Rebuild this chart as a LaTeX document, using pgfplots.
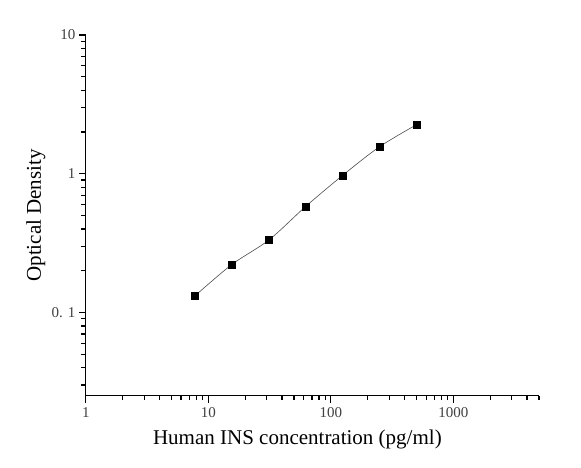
\documentclass[border=0pt]{standalone}
\usepackage{fontspec}
\setmainfont{Liberation Serif}
\usepackage{pgfplots}
\pgfplotsset{compat=1.18}
\begin{document}
\begin{tikzpicture}
\useasboundingbox (-85.8pt,-71.3pt) rectangle (495.2pt,395.7pt);
\begin{axis}[
  at={(0,0)}, anchor=south west,
  scale only axis, width=453.2pt, height=360.7pt,
  xmode=log, ymode=log,
  xmin=1, xmax=5000, ymin=0.0251, ymax=10,
  axis x line=bottom, axis y line=left,
  axis line style={-, line width=1pt},
  xtick align=outside, ytick align=outside,
  major tick length=7pt, minor tick length=4.5pt,
  xtick={1,10,100,1000}, xticklabels={1,10,100,1000},
  minor xtick={2,3,4,5,6,7,8,9,20,30,40,50,60,70,80,90,200,300,400,500,600,700,800,900,2000,3000,4000,5000},
  ytick={0.1,1,10}, yticklabels={0. 1,1,10},
  minor ytick={0.03,0.04,0.05,0.06,0.07,0.08,0.09,0.2,0.3,0.4,0.5,0.6,0.7,0.8,0.9,2,3,4,5,6,7,8,9},
  ytick style={black, line width=1.3pt},
  xtick style={black, line width=1.3pt},
  /pgf/number format/assume math mode=true,
  tick label style={font=\fontsize{15}{15}\selectfont, text=black!75},
  xticklabel style={yshift=-1pt},
  yticklabel style={xshift=0pt},
  xlabel={Human INS concentration (pg/ml)},
  ylabel={Optical Density},
  label style={font=\fontsize{21}{21}\selectfont},
  xlabel style={at={(axis description cs:0.5,0)}, anchor=center, yshift=-44pt, xshift=-15pt},
  ylabel style={at={(axis description cs:0,0.5)}, anchor=center, xshift=0pt, yshift=50pt},
  clip=false,
]
\addplot[gray!60!black, line width=0.6pt, smooth] coordinates {
(7.8,0.132) (15.6,0.222) (31.25,0.333) (62.5,0.582) (125,0.974) (250,1.566) (500,2.256)
};
\addplot[only marks, mark=square*, mark size=3.5pt, black] coordinates {
(7.8,0.132) (15.6,0.222) (31.25,0.333) (62.5,0.582) (125,0.974) (250,1.566) (500,2.256)
};
\end{axis}
\end{tikzpicture}
\end{document}
